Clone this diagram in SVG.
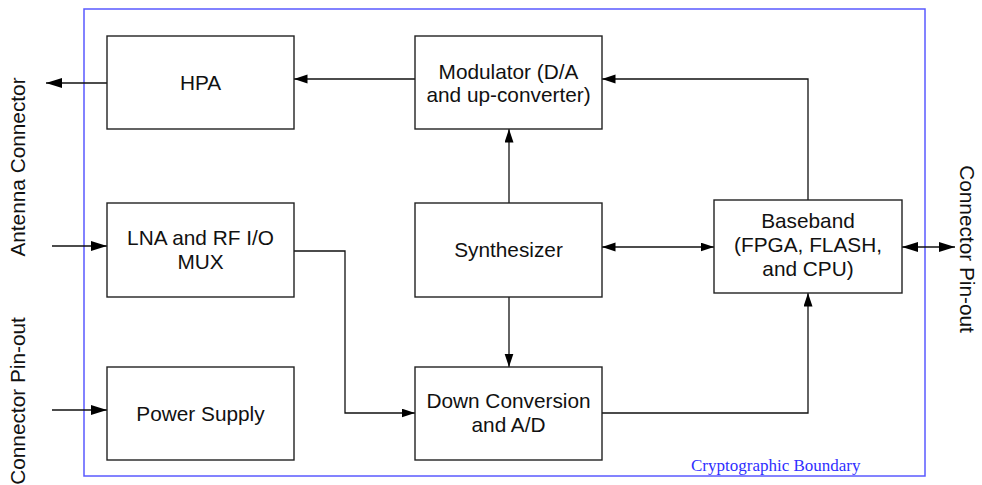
<svg xmlns="http://www.w3.org/2000/svg" width="982" height="485" viewBox="0 0 982 485">
<style>
.box{fill:#fff;stroke:#222;stroke-width:1.4}
.lbl{font-family:"Liberation Sans",Arial,sans-serif;font-size:20.8px;fill:#111;text-anchor:middle}
.con{fill:none;stroke:#111;stroke-width:1.3}
.bnd{fill:none;stroke:#5a5aff;stroke-width:1.5}
.bl{font-family:"Liberation Serif","Times New Roman",serif;font-size:17px;fill:#2f2fff}
</style>
<defs>
<marker id="a" markerUnits="userSpaceOnUse" markerWidth="14" markerHeight="10" refX="13.5" refY="4.5" orient="auto-start-reverse"><path d="M0,0 L13.5,4.5 L0,9 Z" fill="#000"/></marker>
<marker id="aL" markerUnits="userSpaceOnUse" markerWidth="17" markerHeight="11" refX="16" refY="5" orient="auto-start-reverse"><path d="M0,0 L16,5 L0,10 Z" fill="#000"/></marker>
</defs>
<rect x="0" y="0" width="982" height="485" fill="#fff"/>
<g id="boundary">
<rect class="bnd" x="84" y="9" width="841" height="467"/>
<text class="bl" x="691" y="471">Cryptographic Boundary</text>
</g>
<g id="connectors">
<line class="con" x1="107" y1="83" x2="46" y2="83" marker-end="url(#aL)"/>
<line class="con" x1="415" y1="79" x2="294" y2="79" marker-end="url(#a)"/>
<path class="con" d="M808,200 V79 H602" marker-end="url(#a)"/>
<line class="con" x1="509" y1="203" x2="509" y2="129" marker-end="url(#a)"/>
<line class="con" x1="509" y1="297" x2="509" y2="367" marker-end="url(#a)"/>
<line class="con" x1="602" y1="247" x2="714" y2="247" marker-start="url(#a)" marker-end="url(#a)"/>
<line class="con" x1="902" y1="247" x2="955" y2="247" marker-start="url(#aL)" marker-end="url(#aL)"/>
<line class="con" x1="52" y1="246" x2="107" y2="246" marker-end="url(#aL)"/>
<line class="con" x1="52" y1="410" x2="107" y2="410" marker-end="url(#aL)"/>
<path class="con" d="M294,251 H345 V413 H415" marker-end="url(#a)"/>
<path class="con" d="M602,413 H808 V293" marker-end="url(#a)"/>
</g>
<g id="hpa">
<rect class="box" x="107" y="36" width="187" height="93"/>
<text class="lbl" x="200.5" y="89.5">HPA</text>
</g>
<g id="lna">
<rect class="box" x="107" y="203" width="187" height="94"/>
<text class="lbl" x="200.5" y="245">LNA and RF I/O</text>
<text class="lbl" x="200.5" y="269">MUX</text>
</g>
<g id="power">
<rect class="box" x="107" y="367" width="187" height="93"/>
<text class="lbl" x="200.5" y="420.5">Power Supply</text>
</g>
<g id="modulator">
<rect class="box" x="415" y="36" width="187" height="93"/>
<text class="lbl" x="508.5" y="79">Modulator (D/A</text>
<text class="lbl" x="508.5" y="102">and up-converter)</text>
</g>
<g id="synthesizer">
<rect class="box" x="415" y="203" width="187" height="94"/>
<text class="lbl" x="508.5" y="257">Synthesizer</text>
</g>
<g id="downconv">
<rect class="box" x="415" y="367" width="187" height="93"/>
<text class="lbl" x="508.5" y="408">Down Conversion</text>
<text class="lbl" x="508.5" y="432">and A/D</text>
</g>
<g id="baseband">
<rect class="box" x="714" y="200" width="188" height="93"/>
<text class="lbl" x="808" y="228">Baseband</text>
<text class="lbl" x="808" y="252">(FPGA, FLASH,</text>
<text class="lbl" x="808" y="276">and CPU)</text>
</g>
<g id="ext-labels">
<text class="lbl" transform="translate(25,167) rotate(-90)">Antenna Connector</text>
<text class="lbl" transform="translate(25,401) rotate(-90)">Connector Pin-out</text>
<text class="lbl" transform="translate(960,249) rotate(90)">Connector Pin-out</text>
</g>
</svg>
